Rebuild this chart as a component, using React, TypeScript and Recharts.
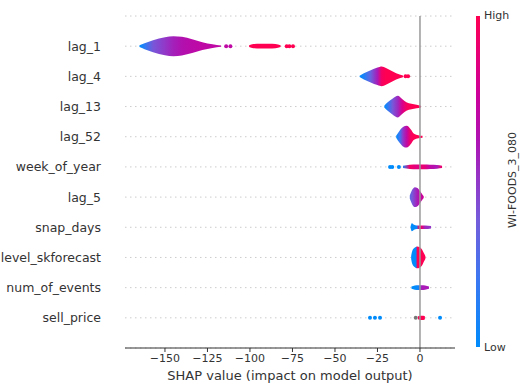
import React from "react";
import {
  ComposedChart,
  Area,
  Scatter,
  XAxis,
  YAxis,
  CartesianGrid,
  ReferenceLine,
} from "recharts";

// top to bottom, as in the plot
const features = [
  "lag_1",
  "lag_4",
  "lag_13",
  "lag_52",
  "week_of_year",
  "lag_5",
  "snap_days",
  "level_skforecast",
  "num_of_events",
  "sell_price",
];

const xTicks = [-150, -125, -100, -75, -50, -25, 0];

// violins: shap value, half width of the density (row units), feature value (0 = low, 1 = high)
const lag1Shap = [-165, -162, -157, -150, -145, -140, -134, -128, -122, -117];
const lag1Width = [0.03, 0.1, 0.2, 0.3, 0.33, 0.31, 0.23, 0.13, 0.06, 0.02];
const lag1Value = [0, 0.15, 0.4, 0.5, 0.58, 0.64, 0.68, 0.7, 0.7, 0.7];

const lag1HighShap = [-100.5, -98, -94, -89, -85, -82];
const lag1HighWidth = [0.03, 0.07, 0.08, 0.08, 0.07, 0.03];
const lag1HighValue = [1, 1, 1, 1, 1, 1];

const lag4Shap = [-35.5, -33, -29, -25, -22.5, -20, -16, -12, -10];
const lag4Width = [0.02, 0.1, 0.2, 0.29, 0.33, 0.28, 0.16, 0.06, 0.03];
const lag4Value = [0, 0.1, 0.35, 0.6, 0.95, 1, 1, 1, 1];

const lag13Shap = [-21, -19, -16, -13, -10.5, -8, -5, -2, 0.5];
const lag13Width = [0.03, 0.14, 0.27, 0.36, 0.25, 0.14, 0.09, 0.06, 0.03];
const lag13Value = [0, 0.15, 0.4, 0.55, 0.8, 0.95, 1, 1, 1];

const lag52Shap = [-14, -12, -10, -7.8, -5.5, -3.5, -1, 1.5];
const lag52Width = [0.03, 0.2, 0.32, 0.36, 0.25, 0.1, 0.05, 0.03];
const lag52Value = [0, 0.2, 0.5, 0.7, 0.95, 1, 1, 1];

const weekShap = [-10, -6, -2, 2, 6, 10, 13];
const weekWidth = [0.04, 0.07, 0.08, 0.08, 0.07, 0.06, 0.04];
const weekValue = [0.1, 0.95, 0.85, 0.9, 0.7, 0.6, 0.95];

const lag5Shap = [-6, -4.5, -3, -1.5, 0, 1.5, 2.2];
const lag5Width = [0.05, 0.25, 0.33, 0.3, 0.2, 0.08, 0.03];
const lag5Value = [0.3, 0.4, 0.5, 0.6, 0.7, 0.75, 0.8];

const snapShap = [-5.5, -4.8, -3.5, -2, -0.5, 1, 3, 6.5];
const snapWidth = [0.03, 0.13, 0.08, 0.06, 0.06, 0.06, 0.06, 0.04];
const snapValue = [0, 0, 0, 0.05, 0.95, 0.9, 0.55, 0.5];

const levelShap = [-5.2, -4.5, -3.2, -2.4, -1.6, 1, 2.5, 3.2];
const levelWidth = [0.05, 0.22, 0.32, 0.35, 0.36, 0.28, 0.12, 0.04];
const levelValue = [0, 0, 0, 0, 1, 1, 1, 1];

const eventsShap = [-5, -3, -1, 1, 3, 5.3];
const eventsWidth = [0.04, 0.07, 0.08, 0.08, 0.07, 0.04];
const eventsValue = [0, 0, 0.05, 0.6, 0.6, 0.6];

const priceHighShap = [-1.2, 0.5, 2, 2.9];
const priceHighWidth = [0.05, 0.07, 0.07, 0.05];
const priceHighValue = [1, 1, 1, 1];

// single outlying points: feature, shap value, feature value (null = missing)
const dotFeature = [
  "lag_1", "lag_1", "lag_1", "lag_1", "lag_1",
  "lag_4", "lag_4",
  "week_of_year", "week_of_year", "week_of_year",
  "sell_price", "sell_price", "sell_price", "sell_price", "sell_price",
];
const dotShap = [-114, -111.5, -78.4, -76.8, -74.7, -8.5, -7, -17.6, -16.3, -12.4, -29.4, -26.5, -23.5, -2.5, 11.8];
const dotValue = [0.7, 0.7, 1, 1, 1, 1, 1, 0, 0, 0, 0, 0, 0, null, 0];

const violins = [
  { feature: "lag_1", shap: lag1Shap, width: lag1Width, value: lag1Value },
  { feature: "lag_1", shap: lag1HighShap, width: lag1HighWidth, value: lag1HighValue },
  { feature: "lag_4", shap: lag4Shap, width: lag4Width, value: lag4Value },
  { feature: "lag_13", shap: lag13Shap, width: lag13Width, value: lag13Value },
  { feature: "lag_52", shap: lag52Shap, width: lag52Width, value: lag52Value },
  { feature: "week_of_year", shap: weekShap, width: weekWidth, value: weekValue },
  { feature: "lag_5", shap: lag5Shap, width: lag5Width, value: lag5Value },
  { feature: "snap_days", shap: snapShap, width: snapWidth, value: snapValue },
  { feature: "level_skforecast", shap: levelShap, width: levelWidth, value: levelValue },
  { feature: "num_of_events", shap: eventsShap, width: eventsWidth, value: eventsValue },
  { feature: "sell_price", shap: priceHighShap, width: priceHighWidth, value: priceHighValue },
];

const cmapStops: [number, string][] = [
  [0, "#008bfb"],
  [0.2, "#3a78f2"],
  [0.38, "#735ddb"],
  [0.5, "#9238c8"],
  [0.62, "#ad14b3"],
  [0.76, "#cc009a"],
  [0.88, "#e60078"],
  [1, "#ff0052"],
];

function hexToRgb(h: string) {
  return [1, 3, 5].map((i) => parseInt(h.slice(i, i + 2), 16));
}

function cmap(v: number | null): string {
  if (v === null) return "#777777";
  for (let i = 1; i < cmapStops.length; i++) {
    const [o1, c1] = cmapStops[i];
    const [o0, c0] = cmapStops[i - 1];
    if (v <= o1) {
      const t = (v - o0) / (o1 - o0);
      const a = hexToRgb(c0);
      const b = hexToRgb(c1);
      const rgb = a.map((x, k) => Math.round(x + (b[k] - x) * t));
      return `rgb(${rgb.join(",")})`;
    }
  }
  return cmapStops[cmapStops.length - 1][1];
}

const rowOf = (f: string) => features.length - 1 - features.indexOf(f);

const dots = dotShap.map((s, i) => ({ x: s, y: rowOf(dotFeature[i]), c: cmap(dotValue[i]) }));

const fmt = (v: number) => (v < 0 ? `\u2212${-v}` : `${v}`);

const font = "DejaVu Sans, sans-serif";

export default function App() {
  return (
    <div style={{ position: "absolute", left: 0, top: 0, width: 521, height: 385, fontFamily: font }}>
      <ComposedChart width={521} height={385} margin={{ top: 16, right: 66, bottom: 0, left: 0 }}>
        <defs>
          {violins.map((v, i) => {
            const s0 = v.shap[0];
            const s1 = v.shap[v.shap.length - 1];
            return (
              <linearGradient key={i} id={`vg${i}`} x1="0" y1="0" x2="1" y2="0">
                {v.shap.map((s, k) => (
                  <stop key={k} offset={(s - s0) / (s1 - s0)} stopColor={cmap(v.value[k])} />
                ))}
              </linearGradient>
            );
          })}
        </defs>
        <CartesianGrid horizontal vertical={false} stroke="#cccccc" strokeDasharray="1.5 3.5" />
        <XAxis
          dataKey="x"
          type="number"
          domain={[-173.5, 20.6]}
          allowDataOverflow
          ticks={xTicks}
          tickFormatter={fmt}
          height={37}
          stroke="#333333"
          tickSize={4}
          tick={{ fontSize: 11, fill: "#333333", fontFamily: font }}
          label={{
            value: "SHAP value (impact on model output)",
            position: "insideBottom",
            offset: 5,
            fontSize: 13,
            fill: "#333333",
            fontFamily: font,
          }}
        />
        <YAxis
          dataKey="y"
          type="number"
          domain={[-1, 10]}
          allowDataOverflow
          ticks={[0, 1, 2, 3, 4, 5, 6, 7, 8, 9]}
          tickFormatter={(v: number) => features[features.length - 1 - v]}
          width={125}
          axisLine={false}
          tickLine={false}
          tickSize={0}
          tickMargin={24}
          tick={{ fontSize: 12.5, fill: "#333333", fontFamily: font }}
        />
        <ReferenceLine x={0} stroke="#999999" strokeWidth={1.5} />
        {violins.map((v, i) => {
          const row = rowOf(v.feature);
          const data = v.shap.map((s, k) => ({ x: s, band: [row - v.width[k], row + v.width[k]] }));
          return (
            <Area
              key={i}
              data={data}
              dataKey="band"
              type="monotone"
              stroke="none"
              fill={`url(#vg${i})`}
              fillOpacity={1}
              isAnimationActive={false}
              dot={false}
              activeDot={false}
            />
          );
        })}
        <Scatter
          data={dots}
          isAnimationActive={false}
          shape={(p: any) => <circle cx={p.cx} cy={p.cy} r={2} fill={p.payload.c} />}
        />
      </ComposedChart>
      <div
        style={{
          position: "absolute",
          left: 476,
          top: 16,
          width: 4,
          height: 331,
          background: `linear-gradient(to top, ${cmapStops.map(([o, c]) => `${c} ${o * 100}%`).join(", ")})`,
        }}
      />
      <div style={{ position: "absolute", left: 484, top: 9, fontSize: 11, color: "#333" }}>High</div>
      <div style={{ position: "absolute", left: 484, top: 341, fontSize: 11, color: "#333" }}>Low</div>
      <div
        style={{
          position: "absolute",
          left: 512,
          top: 180,
          fontSize: 11,
          color: "#333",
          whiteSpace: "nowrap",
          transform: "translate(-50%, -50%) rotate(-90deg)",
        }}
      >
        WI-FOODS_3_080
      </div>
    </div>
  );
}
